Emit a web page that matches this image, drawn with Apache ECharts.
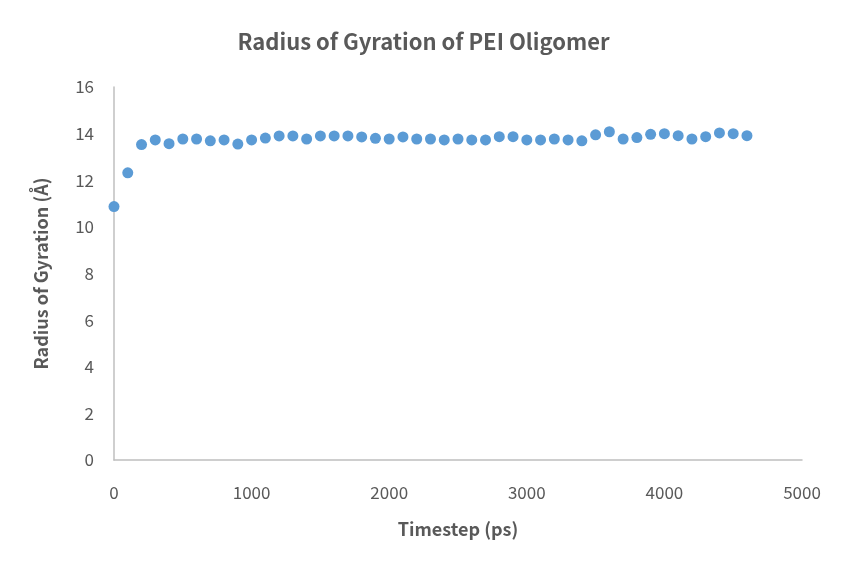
<!DOCTYPE html>
<html><head><meta charset="utf-8">
<script src="https://cdn.jsdelivr.net/npm/echarts@6/dist/echarts.min.js"></script>
<style>html,body{margin:0;padding:0;background:#fff}#c{width:847px;height:573px}</style>
</head><body><div id="c"></div>
<script>
const timesteps = [0,100,200,300,400,500,600,700,800,900,1000,1100,1200,1300,1400,1500,1600,1700,1800,1900,2000,2100,2200,2300,2400,2500,2600,2700,2800,2900,3000,3100,3200,3300,3400,3500,3600,3700,3800,3900,4000,4100,4200,4300,4400,4500,4600];
const rg = [10.87,12.32,13.53,13.73,13.57,13.77,13.77,13.69,13.73,13.55,13.73,13.81,13.90,13.90,13.77,13.90,13.90,13.90,13.86,13.80,13.77,13.86,13.77,13.77,13.73,13.77,13.73,13.73,13.87,13.87,13.73,13.73,13.77,13.73,13.69,13.95,14.08,13.77,13.83,13.97,14.00,13.91,13.77,13.87,14.03,14.00,13.91];
const title = 'Radius of Gyration of PEI Oligomer';
const xName = 'Timestep (ps)';
const yName = 'Radius of Gyration (Å)';
const font = '"Noto Sans CJK KR", "Noto Sans", sans-serif';
const chart = echarts.init(document.getElementById('c'));
chart.setOption({
  animation: false,
  title: {text: title, left: 'center', top: 26, textStyle: {fontFamily: font, fontSize: 22, fontWeight: 'bold', color: '#595959'}},
  grid: {left: 114, right: 45, top: 87, bottom: 113},
  xAxis: {type: 'value', min: 0, max: 5000, interval: 1000, name: xName, nameLocation: 'middle', nameGap: 60,
    nameTextStyle: {fontFamily: font, fontSize: 18, fontWeight: 'bold', color: '#595959'},
    axisLine: {lineStyle: {color: '#bfbfbf', width: 1.5}}, axisTick: {show: false}, splitLine: {show: false},
    axisLabel: {fontFamily: font, fontSize: 17, color: '#595959', margin: 24, formatter: v => String(v)}},
  yAxis: {type: 'value', min: 0, max: 16, interval: 2, name: yName, nameLocation: 'middle', nameGap: 64,
    nameTextStyle: {fontFamily: font, fontSize: 18, fontWeight: 'bold', color: '#595959'},
    axisLine: {show: true, lineStyle: {color: '#bfbfbf', width: 1.5}}, axisTick: {show: false}, splitLine: {show: false},
    axisLabel: {fontFamily: font, fontSize: 17, color: '#595959', margin: 20}},
  series: [{type: 'scatter', symbol: 'circle', symbolSize: 11, itemStyle: {color: '#5B9BD5', opacity: 1},
    data: timesteps.map((t, i) => [t, rg[i]])}]
});
</script></body></html>
